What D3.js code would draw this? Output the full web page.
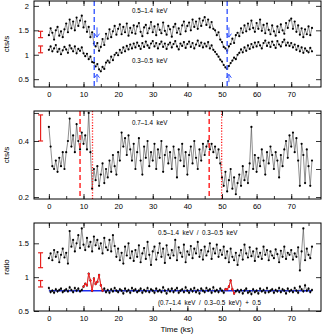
<!DOCTYPE html>
<html><head><meta charset="utf-8">
<script src="https://cdn.jsdelivr.net/npm/d3@7"></script>
<style>body{margin:0;background:#fff}svg{display:block}text{font-family:"Liberation Sans",Arial,sans-serif;fill:#000}</style>
</head><body>
<script>
// ---- data (time bins of 0.5 ks from 0 to 76 ks) ----
const binWidth = 0.5;
const hard = [ // 0.5-1.4 keV cts/s
1.40,1.54,1.45,1.31,1.50,1.57,1.39,1.48,1.36,1.52,
1.64,1.46,1.72,1.54,1.68,1.50,1.76,1.59,1.70,1.80,
1.56,1.68,1.47,1.57,1.36,1.46,1.23,1.17,1.24,1.08,
1.16,1.32,1.20,1.43,1.33,1.52,1.36,1.48,1.59,1.41,
1.53,1.62,1.42,1.57,1.46,1.64,1.39,1.55,1.45,1.60,
1.43,1.58,1.65,1.47,1.38,1.56,1.61,1.44,1.54,1.67,
1.46,1.58,1.40,1.62,1.51,1.44,1.66,1.49,1.41,1.59,
1.52,1.37,1.57,1.63,1.45,1.54,1.42,1.60,1.68,1.48,
1.59,1.66,1.50,1.72,1.57,1.68,1.53,1.74,1.59,1.70,
1.77,1.61,1.72,1.56,1.67,1.53,1.50,1.40,1.46,1.31,
1.26,1.16,1.13,1.08,1.17,1.22,1.33,1.24,1.40,1.45,
1.38,1.54,1.45,1.60,1.48,1.64,1.52,1.70,1.55,1.47,
1.65,1.53,1.72,1.49,1.61,1.44,1.64,1.51,1.42,1.60,
1.48,1.39,1.58,1.46,1.62,1.50,1.43,1.65,1.55,1.70,
1.74,1.53,1.68,1.47,1.60,1.41,1.54,1.36,1.52,1.42,
1.58,1.40,1.55];
const soft = [ // 0.3-0.5 keV cts/s
1.10,1.17,1.07,1.13,1.20,1.06,1.12,1.01,1.09,1.16,
1.11,1.04,1.19,1.13,1.07,1.17,1.03,1.12,1.08,1.15,
1.03,0.97,1.02,0.91,0.96,0.85,0.84,0.76,0.81,0.70,
0.66,0.75,0.71,0.84,0.88,0.84,0.96,0.89,1.00,1.04,
0.99,1.10,1.04,1.15,1.07,1.18,1.11,1.21,1.13,1.23,
1.15,1.25,1.18,1.12,1.24,1.16,1.27,1.19,1.14,1.23,
1.28,1.17,1.24,1.13,1.22,1.27,1.16,1.23,1.12,1.21,
1.25,1.15,1.22,1.28,1.17,1.11,1.23,1.18,1.26,1.14,
1.22,1.27,1.16,1.24,1.13,1.21,1.29,1.18,1.25,1.15,
1.23,1.17,1.26,1.13,1.19,1.10,1.06,1.01,0.96,0.90,
0.86,0.79,0.74,0.71,0.77,0.83,0.88,0.94,0.91,1.00,
1.04,1.11,1.05,1.15,1.08,1.19,1.12,1.22,1.15,1.25,
1.17,1.26,1.19,1.13,1.24,1.29,1.18,1.25,1.16,1.27,
1.20,1.14,1.28,1.21,1.17,1.26,1.31,1.19,1.25,1.18,
1.24,1.15,1.21,1.10,1.18,1.07,1.15,1.04,1.13,1.08,
1.05,1.14,1.07];
const mid = [ // 0.7-1.4 keV cts/s
0.45,0.38,0.31,0.30,0.33,0.29,0.34,0.31,0.36,0.30,
0.36,0.40,0.48,0.38,0.42,0.36,0.46,0.40,0.37,0.43,
0.39,0.42,0.37,0.50,0.36,0.23,0.30,0.26,0.31,0.24,
0.28,0.32,0.25,0.30,0.27,0.33,0.29,0.35,0.31,0.28,
0.36,0.33,0.43,0.38,0.41,0.35,0.42,0.37,0.33,0.39,
0.30,0.36,0.41,0.33,0.28,0.38,0.34,0.40,0.31,0.36,
0.33,0.39,0.30,0.37,0.34,0.40,0.29,0.35,0.38,0.32,
0.36,0.30,0.38,0.34,0.27,0.37,0.33,0.39,0.31,0.36,
0.28,0.35,0.38,0.32,0.40,0.34,0.30,0.37,0.33,0.39,
0.35,0.38,0.40,0.37,0.39,0.36,0.38,0.34,0.37,0.32,
0.27,0.24,0.29,0.22,0.26,0.30,0.23,0.27,0.21,0.25,
0.28,0.24,0.31,0.26,0.29,0.25,0.32,0.45,0.30,0.35,
0.29,0.34,0.31,0.37,0.33,0.28,0.36,0.32,0.38,0.35,
0.30,0.36,0.33,0.27,0.35,0.31,0.37,0.40,0.34,0.42,
0.38,0.43,0.36,0.41,0.33,0.24,0.39,0.35,0.25,0.37,
0.31,0.24,0.33];
const ratioHS = [ // (0.5-1.4)/(0.3-0.5)
1.28,1.35,1.25,1.40,1.30,1.37,1.22,1.33,1.42,1.29,
1.36,1.20,1.68,1.45,1.55,1.38,1.50,1.62,1.43,1.72,
1.48,1.40,1.58,1.45,1.52,1.38,1.60,1.47,1.55,1.42,
1.50,1.35,1.58,1.44,1.40,1.55,1.38,1.62,1.46,1.30,
1.42,1.25,1.36,1.20,1.45,1.32,1.50,1.28,1.38,1.24,
1.40,1.30,1.47,1.22,1.35,1.43,1.27,1.52,1.33,1.18,
1.38,1.45,1.26,1.36,1.50,1.30,1.42,1.21,1.47,1.33,
1.28,1.40,1.32,1.55,1.25,1.44,1.36,1.30,1.48,1.22,
1.38,1.33,1.46,1.28,1.42,1.35,1.52,1.30,1.40,1.26,
1.45,1.32,1.38,1.50,1.27,1.42,1.35,1.48,1.30,1.40,
1.33,1.45,1.28,1.38,1.22,1.42,1.30,1.25,1.36,1.18,
1.32,1.40,1.26,1.48,1.35,1.29,1.44,1.31,1.38,1.24,
1.42,1.30,1.36,1.27,1.45,1.33,1.40,1.25,1.38,1.32,
1.28,1.41,1.34,1.22,1.39,1.30,1.45,1.27,1.36,1.33,
1.40,1.26,1.35,1.30,1.44,1.10,1.38,1.72,1.25,1.42,
1.33,1.28,1.45];
const ratioMS = [ // (0.7-1.4)/(0.3-0.5) + 0.5
0.84,0.78,0.80,0.77,0.82,0.79,0.81,0.83,0.78,0.80,
0.82,0.79,0.85,0.81,0.78,0.84,0.80,0.83,0.79,0.81,
0.86,0.90,0.88,1.05,0.95,0.80,0.98,0.90,0.93,1.03,
0.88,0.80,0.83,0.78,0.81,0.77,0.82,0.79,0.84,0.80,
0.78,0.82,0.80,0.76,0.83,0.79,0.81,0.77,0.84,0.80,
0.82,0.78,0.80,0.83,0.77,0.81,0.79,0.84,0.78,0.82,
0.80,0.77,0.83,0.79,0.81,0.78,0.85,0.80,0.76,0.82,
0.79,0.83,0.78,0.81,0.84,0.77,0.80,0.82,0.78,0.85,
0.80,0.77,0.82,0.79,0.84,0.78,0.81,0.76,0.83,0.80,
0.78,0.84,0.80,0.82,0.77,0.85,0.79,0.81,0.78,0.83,
0.80,0.77,0.82,0.82,0.86,0.95,0.82,0.76,0.79,0.81,
0.78,0.81,0.76,0.80,0.83,0.77,0.79,0.75,0.82,0.78,
0.80,0.76,0.83,0.79,0.81,0.77,0.84,0.78,0.80,0.82,
0.77,0.81,0.79,0.84,0.78,0.82,0.80,0.76,0.83,0.79,
0.81,0.78,0.84,0.80,0.77,0.86,0.82,0.79,0.88,0.80,
0.83,0.78,0.81];
const ratioMSerr = 0.022;
const redRanges = [[10,15.5],[51,53.5]];
const ratioLevel = 0.8;
const dipTimes = [13.1, 51.5];
const arrowTimes = [13.9, 52.0];
const dashedRed = [9.0, 46.3];
const dottedRed = [12.6, 49.9];
const errP1 = [[1.35,1.48],[1.04,1.18]];
const errP2 = [[0.40,0.493]];
const errP3 = [[1.14,1.36],[0.855,0.95]];
const errX = -2.4;
const xTicks = [0,10,20,30,40,50,60,70];
const yTicks1 = [0.5,1,1.5,2], yLab1 = [0.5,1,1.5,2];
const yTicks2 = [0.2,0.3,0.4,0.5], yLab2 = [0.2,0.4];
const yTicks3 = [0.5,1,1.5], yLab3 = [0.5,1,1.5];

const time = hard.map((_, i) => i * binWidth);

const W = 323, H = 335;
const svg = d3.select("body").append("svg").attr("width", W).attr("height", H);
const x = d3.scaleLinear().domain([-4.3, 78.6]).range([34, 321]);

const panels = [
  {top:1, bot:87, dom:[0.34,2.1], ticks:yTicks1, labs:yLab1, ylab:"cts/s"},
  {top:111, bot:199, dom:[0.193,0.507], ticks:yTicks2, labs:yLab2, ylab:"cts/s"},
  {top:223, bot:311, dom:[0.5,1.8], ticks:yTicks3, labs:yLab3, ylab:"ratio"}
];
panels.forEach(p => { p.y = d3.scaleLinear().domain(p.dom).range([p.bot, p.top]); });

function frame(p){
  const g = svg.append("g");
  const fmt = v => String(v);
  const minor = d3.range(-0, 80, 5);
  g.append("g").attr("transform",`translate(0,${p.bot})`).call(d3.axisBottom(x).tickValues(minor).tickSize(-3).tickFormat(""));
  g.append("g").attr("transform",`translate(0,${p.bot})`).call(d3.axisBottom(x).tickValues(xTicks).tickSize(-5).tickPadding(5).tickFormat(fmt));
  g.append("g").attr("transform",`translate(0,${p.top})`).call(d3.axisTop(x).tickValues(minor).tickSize(-3).tickFormat(""));
  g.append("g").attr("transform",`translate(0,${p.top})`).call(d3.axisTop(x).tickValues(xTicks).tickSize(-5).tickFormat(""));
  g.append("g").attr("transform",`translate(34,0)`).call(d3.axisLeft(p.y).tickValues(p.ticks).tickSize(-5).tickFormat(""));
  g.append("g").attr("transform",`translate(34,0)`).call(d3.axisLeft(p.y).tickValues(p.labs).tickSize(0).tickPadding(5).tickFormat(fmt));
  g.append("g").attr("transform",`translate(321,0)`).call(d3.axisRight(p.y).tickValues(p.ticks).tickSize(-5).tickFormat(""));
  g.selectAll(".domain").remove();
  g.selectAll(".tick line").attr("stroke","#000").attr("stroke-width",0.8);
  g.selectAll(".tick text").style("font-size","7.5px").attr("fill","#000");
  g.append("rect").attr("x",34).attr("y",p.top).attr("width",287).attr("height",p.bot-p.top)
    .attr("fill","none").attr("stroke","#000").attr("stroke-width",1);
  svg.append("text").attr("transform",`translate(9,${(p.top+p.bot)/2}) rotate(-90)`)
    .attr("text-anchor","middle").style("font-size","8px").text(p.ylab);
}

function series(p, vals, col="#000"){
  const line = d3.line().x((d,i)=>x(time[i])).y(d=>p.y(d));
  svg.append("path").datum(vals).attr("d",line).attr("fill","none").attr("stroke","#444").attr("stroke-width",0.6);
  svg.append("g").selectAll("circle").data(vals).join("circle")
    .attr("cx",(d,i)=>x(time[i])).attr("cy",d=>p.y(d)).attr("r",1.1).attr("fill",col);
}

function errbar(p, lo, hi){
  const g = svg.append("g").attr("stroke","#e8211e").attr("stroke-width",1.2);
  g.append("line").attr("x1",x(errX)).attr("x2",x(errX)).attr("y1",p.y(lo)).attr("y2",p.y(hi));
  [lo,hi].forEach(v=>g.append("line").attr("x1",x(errX)-2.5).attr("x2",x(errX)+2.5).attr("y1",p.y(v)).attr("y2",p.y(v)));
}

function vline(p, t, col, dash, w){
  svg.append("line").attr("x1",x(t)).attr("x2",x(t)).attr("y1",p.top).attr("y2",p.bot)
    .attr("stroke",col).attr("stroke-width",w).attr("stroke-dasharray",dash);
}

function arrow(p, t, from, to){
  const g = svg.append("g").attr("stroke","#3b5bff").attr("stroke-width",1).attr("fill","none");
  const X = x(t), y1 = p.y(from), y2 = p.y(to);
  const dir = y2 > y1 ? 1 : -1;
  g.append("line").attr("x1",X).attr("x2",X).attr("y1",y1).attr("y2",y2);
  g.append("path").attr("d",`M${X-2.5},${y2-dir*3.5}L${X},${y2}L${X+2.5},${y2-dir*3.5}`);
}

function label(xp, yp, txt){
  svg.append("text").attr("x",xp).attr("y",yp).style("font-size","6.3px").attr("xml:space","preserve").text(txt);
}

const P1 = panels[0], P2 = panels[1], P3 = panels[2];
// Panel 1
series(P1, hard); series(P1, soft);
dipTimes.forEach(t => vline(P1, t, "#3b5bff", "5,3", 1.4));
arrowTimes.forEach(t => { arrow(P1, t, 1.56, 1.36); arrow(P1, t, 0.44, 0.6); });
errP1.forEach(e => errbar(P1, e[0], e[1]));
label(132, 12.5, "0.5\u20131.4  keV");
label(132, 63, "0.3\u20130.5  keV");
frame(P1);

// Panel 2
series(P2, mid);
dashedRed.forEach(t => vline(P2, t, "#ff1a1a", "5,3", 1.4));
dottedRed.forEach(t => vline(P2, t, "#ff1a1a", "1.2,1.6", 1.3));
errP2.forEach(e => errbar(P2, e[0], e[1]));
label(132, 125, "0.7\u20131.4  keV");
frame(P2);

// Panel 3
series(P3, ratioHS);
svg.append("line").attr("x1",x(0)).attr("x2",x(76)).attr("y1",P3.y(ratioLevel)).attr("y2",P3.y(ratioLevel))
  .attr("stroke","#1d2cf0").attr("stroke-width",1.6);
svg.append("g").attr("stroke","#222").attr("stroke-width",0.6).selectAll("line").data(ratioMS).join("line")
  .attr("x1",(d,i)=>x(time[i])).attr("x2",(d,i)=>x(time[i]))
  .attr("y1",d=>P3.y(d-ratioMSerr)).attr("y2",d=>P3.y(d+ratioMSerr));
series(P3, ratioMS);
redRanges.forEach(r => {
  const idx = time.map((t,i)=>i).filter(i => time[i] >= r[0] && time[i] <= r[1]);
  const vals = idx.map(i => ratioMS[i]);
  const line = d3.line().x((d,j)=>x(time[idx[j]])).y(d=>P3.y(d));
  svg.append("path").datum(vals).attr("d",line).attr("fill","none").attr("stroke","#ff1a1a").attr("stroke-width",0.9);
  svg.append("g").selectAll("circle").data(vals).join("circle")
    .attr("cx",(d,j)=>x(time[idx[j]])).attr("cy",d=>P3.y(d)).attr("r",1.1).attr("fill","#ff1a1a");
});
errP3.forEach(e => errbar(P3, e[0], e[1]));
label(158, 235, "0.5\u20131.4  keV  /  0.3\u20130.5  keV");
label(158, 305, "(0.7\u20131.4  keV  /  0.3\u20130.5  keV)  +  0.5");
frame(P3);
svg.append("text").attr("x",177).attr("y",332).attr("text-anchor","middle").style("font-size","8px").text("Time (ks)");
</script>
</body></html>
